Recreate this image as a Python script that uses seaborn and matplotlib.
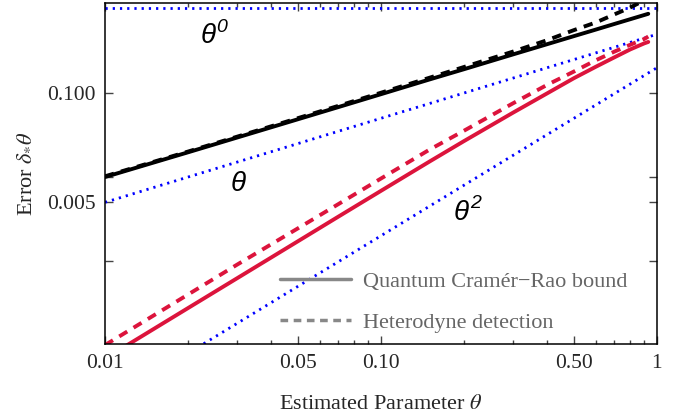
import numpy as np
import pandas as pd
import matplotlib
matplotlib.use('Agg')
import matplotlib.pyplot as plt
from matplotlib.lines import Line2D
import seaborn as sns

#DATA
####################################################################################################

theta = [0.01, 0.02, 0.03, 0.05, 0.07, 0.1, 0.15, 0.2, 0.3, 0.4, 0.5, 0.6, 0.7, 0.8, 0.9, 0.93]

#black: coherent-like probe
qcrb_black = [0.0100, 0.0197, 0.0294, 0.0487, 0.0679, 0.0968, 0.145, 0.192, 0.287, 0.381,
              0.475, 0.568, 0.662, 0.755, 0.848, 0.876]
het_black = [0.0102, 0.0201, 0.0301, 0.0502, 0.0702, 0.1007, 0.152, 0.204, 0.310, 0.425,
             0.560, 0.690, 0.860, 1.040, 1.270, 1.360]

#red: squeezed-like probe
qcrb_red = [6.9e-5, 2.76e-4, 6.2e-4, 1.72e-3, 3.37e-3, 6.85e-3, 0.0153, 0.0268, 0.058, 0.099,
            0.150, 0.205, 0.265, 0.330, 0.390, 0.405]
het_red = [1.0e-4, 4.0e-4, 9.0e-4, 2.45e-3, 4.75e-3, 9.6e-3, 0.0212, 0.0356, 0.075, 0.125,
           0.180, 0.245, 0.310, 0.375, 0.440, 0.470]

#scaling guides
guide_theta = [0.01, 1.0]
guide_pow0 = [1.04, 1.04]
guide_pow1 = [0.005, 0.5]
guide_pow2 = [2e-5, 0.2]

x_ticks = [0.01, 0.05, 0.1, 0.5, 1]
x_ticklabels = ['0.01', '0.05', '0.10', '0.50', '1']
x_minor = [0.02, 0.03, 0.04, 0.06, 0.07, 0.08, 0.09, 0.2, 0.3, 0.4, 0.6, 0.7, 0.8, 0.9]
y_ticks = [0.001, 0.005, 0.01, 0.1]
y_ticklabels = ['', '0.005', '', '0.100']

#PLOT
####################################################################################################

sns.set_style('ticks')
plt.rcParams['font.family'] = ['Liberation Serif', 'DejaVu Serif']
plt.rcParams['mathtext.fontset'] = 'stix'

red = '#dc143c'
blue = '#0000ff'
dotted = (0, (0.8, 1.8))
dashed = (0, (2.4, 1.9))

fig = plt.figure(figsize=(6.93, 4.18), dpi=100)
ax = fig.add_axes([0.1515, 0.177, 0.7965, 0.816])

for yy in [guide_pow0, guide_pow1, guide_pow2]:
    sns.lineplot(x=guide_theta, y=yy, ax=ax, color=blue, lw=2.0, linestyle=dotted,
                 dash_capstyle='butt')

sns.lineplot(x=theta, y=het_black, ax=ax, color='black', lw=2.8, linestyle=dashed)
sns.lineplot(x=theta, y=qcrb_black, ax=ax, color='black', lw=2.8)
sns.lineplot(x=theta, y=het_red, ax=ax, color=red, lw=2.8, linestyle=dashed)
sns.lineplot(x=theta, y=qcrb_red, ax=ax, color=red, lw=2.8)

ax.set_xscale('log')
ax.set_yscale('log')
ax.set_xlim(0.01, 1)
ax.set_ylim(1.03e-4, 1.18)

ax.set_xticks(x_ticks)
ax.set_xticklabels(x_ticklabels)
ax.set_xticks(x_minor, minor=True)
ax.set_xticklabels([], minor=True)
ax.set_yticks(y_ticks)
ax.set_yticklabels(y_ticklabels)
ax.yaxis.set_minor_locator(matplotlib.ticker.NullLocator())
ax.tick_params(which='both', direction='in', top=True, right=True, labelsize=15.5,
               color='#444444', width=1)
ax.tick_params(which='major', length=5.5, pad=7)
ax.tick_params(which='minor', length=3)
for sp in ax.spines.values():
    sp.set_color('black')
    sp.set_linewidth(1.1)

ax.set_xlabel(r'Estimated Parameter $\theta$', fontsize=16, labelpad=16)
ax.set_ylabel(r'Error $\delta_{*}\theta$', fontsize=16, labelpad=9)

#power-law labels
lab = dict(family=['Liberation Sans', 'DejaVu Sans'], style='italic', transform=ax.transAxes,
           ha='center', va='center', color='black')
ax.text(0.187, 0.903, 'θ', fontsize=20, **lab)
ax.text(0.212, 0.927, '0', fontsize=14, **lab)
ax.text(0.241, 0.469, 'θ', fontsize=20, **lab)
ax.text(0.645, 0.384, 'θ', fontsize=20, **lab)
ax.text(0.671, 0.412, '2', fontsize=14, **lab)

handles = [Line2D([], [], color='#888888', lw=2.5),
           Line2D([], [], color='#888888', lw=2.5, linestyle=(0, (2.2, 1.6)))]
ax.legend(handles, ['Quantum Cramér−Rao bound', 'Heterodyne detection'],
          loc='lower left', bbox_to_anchor=(0.28, -0.027), frameon=False, fontsize=16,
          labelcolor='#666666', handlelength=3.2, handletextpad=0.55, labelspacing=0.95)

plt.savefig('out.png', dpi=100)
